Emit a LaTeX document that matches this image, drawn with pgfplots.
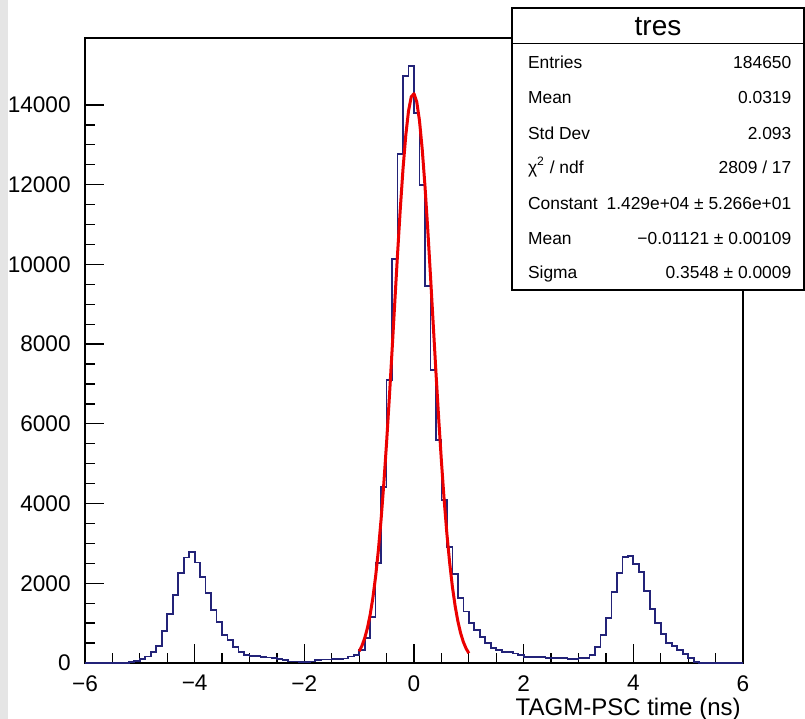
\documentclass[border=0pt]{standalone}
\usepackage{fontspec}
\setmainfont{Liberation Sans}
\usepackage{pgfplots}
\pgfplotsset{compat=1.18}
\usepackage{pgfplotstable}
\definecolor{histblue}{RGB}{35,35,120}
\definecolor{fitred}{RGB}{235,0,0}

\pgfplotstableread{
x y
-6.0 0
-5.2 30
-5.1 58
-5.0 109
-4.9 160
-4.8 268
-4.7 426
-4.6 803
-4.5 1229
-4.4 1706
-4.3 2266
-4.2 2650
-4.1 2793
-4.0 2525
-3.9 2149
-3.8 1764
-3.7 1321
-3.6 1037
-3.5 702
-3.4 577
-3.3 393
-3.2 284
-3.1 192
-3.0 176
-2.9 170
-2.8 150
-2.7 140
-2.6 120
-2.5 92
-2.4 80
-2.3 40
-2.2 35
-2.1 30
-2.0 30
-1.9 35
-1.8 80
-1.7 85
-1.6 90
-1.5 92
-1.4 95
-1.3 110
-1.2 160
-1.1 200
-1.0 326
-0.9 619
-0.8 1162
-0.7 2517
-0.6 4424
-0.5 7100
-0.4 10136
-0.3 12770
-0.2 14727
-0.1 14977
0.0 13800
0.1 11992
0.2 9458
0.3 7350
0.4 5595
0.5 4089
0.6 2915
0.7 2240
0.8 1622
0.9 1290
1.0 1000
1.1 828
1.2 660
1.3 510
1.4 368
1.5 326
1.6 284
1.7 284
1.8 242
1.9 200
2.0 150
2.1 142
2.2 142
2.3 142
2.4 130
2.5 125
2.6 117
2.7 117
2.8 109
2.9 109
3.0 120
3.1 125
3.2 209
3.3 401
3.4 711
3.5 1129
3.6 1781
3.7 2258
3.8 2659
3.9 2684
4.0 2492
4.1 2283
4.2 1798
4.3 1346
4.4 1012
4.5 736
4.6 510
4.7 418
4.8 334
4.9 234
5.0 134
5.1 33
5.2 0
6.0 0
}\histdata

\pgfplotstableread{
x y
-1.00 294
-0.95 431
-0.90 620
-0.85 874
-0.80 1207
-0.75 1635
-0.70 2171
-0.65 2826
-0.60 3606
-0.55 4510
-0.50 5532
-0.45 6651
-0.40 7840
-0.35 9058
-0.30 10261
-0.25 11394
-0.20 12404
-0.15 13237
-0.10 13849
-0.05 14205
0.00 14283
0.05 14079
0.10 13605
0.15 12888
0.20 11970
0.25 10898
0.30 9727
0.35 8511
0.40 7300
0.45 6139
0.50 5061
0.55 4090
0.60 3240
0.65 2517
0.70 1916
0.75 1431
0.80 1047
0.85 751
0.90 528
0.95 364
1.00 246
}\fitdata

\begin{document}
\begin{tikzpicture}
\useasboundingbox (-42.5pt,-28pt) rectangle (360pt,331.5pt);
\fill[black!10] (-42.5pt,-28pt) rectangle (-38.5pt,331.5pt);
\begin{axis}[
  scale only axis,
  width=329pt, height=312.5pt,
  xmin=-6, xmax=6, ymin=0, ymax=15680,
  scaled y ticks=false, scaled x ticks=false,
  xtick={-6,-4,-2,0,2,4,6},
  xticklabels={−6,−4,−2,0,2,4,6},
  ytick={0,2000,4000,6000,8000,10000,12000,14000},
  yticklabels={0,2000,4000,6000,8000,10000,12000,14000},
  minor x tick num=3, minor y tick num=3,
  tick align=inside,
  xtick pos=bottom, ytick pos=left,
  major tick length=9.5pt, minor tick length=5pt,
  axis line style={line width=0.75pt},
  every tick/.style={black, line width=0.65pt},
  ticklabel style={font=\fontsize{11.3}{13}\selectfont},
  xticklabel style={anchor=north, inner sep=0pt, yshift=-6pt},
  yticklabel style={anchor=east, inner sep=0pt, xshift=-7pt},
  xlabel={TAGM-PSC time (ns)},
  xlabel style={at={(axis description cs:1,0)}, anchor=base east, inner sep=0pt,
    yshift=-26.5pt, xshift=-1pt, font=\fontsize{12}{14}\selectfont},
  clip=false,
]
\addplot[const plot, histblue, line width=0.85pt, no marks] table[x=x, y=y] {\histdata};
\addplot[fitred, line width=1.5pt, no marks, line join=round] table[x=x, y=y] {\fitdata};
\end{axis}
% statistics box
\draw[fill=white, line width=0.65pt] (213.5pt,186.5pt) rectangle (359.5pt,327.5pt);
\draw[line width=0.65pt] (213.5pt,309.85pt) -- (359.5pt,309.85pt);
\node[font=\fontsize{14}{16}\selectfont, inner sep=0pt] at (286.5pt,318.3pt) {tres};
\begin{scope}[every node/.style={font=\fontsize{8.7}{10}\selectfont, inner sep=0pt}]
\node[anchor=mid west] at (221.35pt,299.85pt) {Entries};
\node[anchor=mid east] at (353.35pt,299.85pt) {184650};
\node[anchor=mid west] at (221.35pt,282.35pt) {Mean};
\node[anchor=mid east] at (353.35pt,282.35pt) {0.0319};
\node[anchor=mid west] at (221.35pt,264.35pt) {Std Dev};
\node[anchor=mid east] at (353.35pt,264.35pt) {2.093};
\node[anchor=mid west] at (221.35pt,247.35pt) {χ\textsuperscript{2} / ndf};
\node[anchor=mid east] at (353.35pt,247.35pt) {2809 / 17};
\node[anchor=mid west] at (221.35pt,229.5pt) {Constant};
\node[anchor=mid east] at (353.35pt,229.5pt) {1.429e+04 ± 5.266e+01};
\node[anchor=mid west] at (221.35pt,211.85pt) {Mean};
\node[anchor=mid east] at (353.35pt,211.85pt) {−0.01121 ± 0.00109};
\node[anchor=mid west] at (221.35pt,194.85pt) {Sigma};
\node[anchor=mid east] at (353.35pt,194.85pt) {0.3548 ± 0.0009};
\end{scope}
\end{tikzpicture}
\end{document}
